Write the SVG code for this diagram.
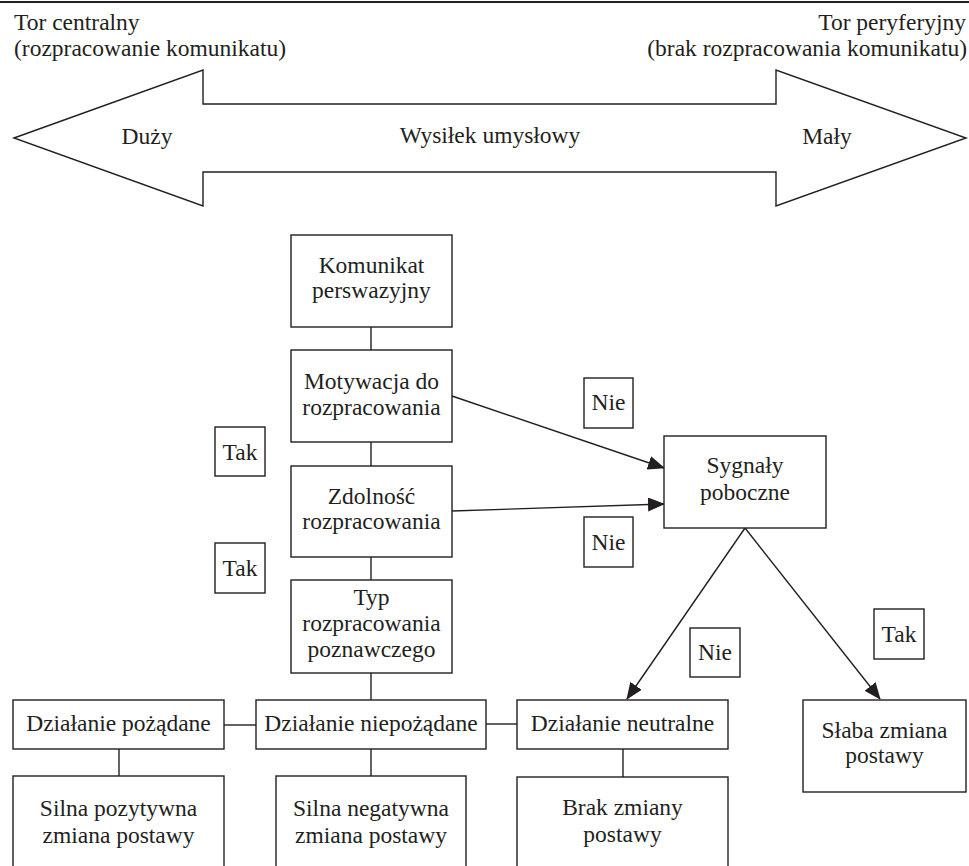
<svg xmlns="http://www.w3.org/2000/svg" width="969" height="866" viewBox="0 0 969 866" font-family="'Liberation Serif', 'DejaVu Serif', serif">
<defs>
<style>
text{font-family:'Liberation Serif','DejaVu Serif',serif;font-size:23.5px;fill:#231f20;text-anchor:middle}
.box{fill:#fff;stroke:#231f20;stroke-width:1.4}
.con{fill:none;stroke:#231f20;stroke-width:1.4}
.l{text-anchor:start}
.r{text-anchor:end}
</style>
<marker id="ah" markerUnits="userSpaceOnUse" markerWidth="18" markerHeight="14" refX="16" refY="7" orient="auto">
<path d="M0,0 L17,7 L0,14 z" fill="#231f20"/>
</marker>
</defs>
<rect width="969" height="866" fill="#fff"/>
<line x1="0" y1="2" x2="969" y2="2" stroke="#231f20" stroke-width="2.2"/>
<g id="header">
<text class="l" x="14" y="30">Tor centralny</text>
<text class="l" x="14" y="56">(rozpracowanie komunikatu)</text>
<text class="r" x="966" y="30">Tor peryferyjny</text>
<text class="r" x="967" y="56">(brak rozpracowania komunikatu)</text>
</g>
<g id="effort-arrow">
<polygon class="box" points="14,138 203,70 203,104 776,104 776,70 966,138 776,206 776,172 203,172 203,206"/>
<text x="147" y="144">Duży</text>
<text x="490" y="143">Wysiłek umysłowy</text>
<text x="827" y="144">Mały</text>
</g>
<g id="connectors">
<line class="con" x1="371" y1="327" x2="371" y2="350"/>
<line class="con" x1="371" y1="442" x2="371" y2="466"/>
<line class="con" x1="371" y1="557" x2="371" y2="580"/>
<line class="con" x1="371" y1="673" x2="371" y2="700"/>
<line class="con" x1="224" y1="725" x2="256" y2="725"/>
<line class="con" x1="486" y1="724" x2="517" y2="724"/>
<line class="con" x1="119" y1="749" x2="119" y2="776"/>
<line class="con" x1="371" y1="749" x2="371" y2="776"/>
<line class="con" x1="623" y1="749" x2="623" y2="777"/>
<line class="con" x1="452" y1="396" x2="664" y2="468" marker-end="url(#ah)"/>
<line class="con" x1="452" y1="511" x2="664" y2="504" marker-end="url(#ah)"/>
<line class="con" x1="745" y1="528" x2="627" y2="699" marker-end="url(#ah)"/>
<line class="con" x1="745" y1="528" x2="880" y2="699" marker-end="url(#ah)"/>
</g>
<g id="komunikat">
<rect class="box" x="291" y="235" width="161" height="92"/>
<text x="371.5" y="273">Komunikat</text>
<text x="371.5" y="298">perswazyjny</text>
</g>
<g id="motywacja">
<rect class="box" x="291" y="350" width="161" height="92"/>
<text x="371.5" y="389">Motywacja do</text>
<text x="371.5" y="415">rozpracowania</text>
</g>
<g id="zdolnosc">
<rect class="box" x="291" y="466" width="161" height="91"/>
<text x="371.5" y="504">Zdolność</text>
<text x="371.5" y="529">rozpracowania</text>
</g>
<g id="typ">
<rect class="box" x="291" y="580" width="161" height="93"/>
<text x="371.5" y="605">Typ</text>
<text x="371.5" y="631">rozpracowania</text>
<text x="371.5" y="657">poznawczego</text>
</g>
<g id="tak1"><rect class="box" x="215" y="427" width="50" height="49"/><text x="240" y="460">Tak</text></g>
<g id="tak2"><rect class="box" x="215" y="543" width="50" height="50"/><text x="240" y="576">Tak</text></g>
<g id="nie1"><rect class="box" x="584" y="378" width="49" height="50"/><text x="608.5" y="410">Nie</text></g>
<g id="nie2"><rect class="box" x="584" y="517" width="49" height="50"/><text x="608.5" y="550">Nie</text></g>
<g id="nie3"><rect class="box" x="690" y="628" width="50" height="49"/><text x="715" y="660">Nie</text></g>
<g id="tak3"><rect class="box" x="874" y="609" width="50" height="50"/><text x="899" y="642">Tak</text></g>
<g id="sygnaly">
<rect class="box" x="664" y="436" width="162" height="92"/>
<text x="745" y="473">Sygnały</text>
<text x="745" y="500">poboczne</text>
</g>
<g id="dzialanie-pozadane">
<rect class="box" x="13" y="700" width="211" height="49"/>
<text x="118.5" y="731">Działanie pożądane</text>
</g>
<g id="dzialanie-niepozadane">
<rect class="box" x="256" y="700" width="230" height="49"/>
<text x="371" y="731">Działanie niepożądane</text>
</g>
<g id="dzialanie-neutralne">
<rect class="box" x="517" y="700" width="211" height="49"/>
<text x="622.5" y="731">Działanie neutralne</text>
</g>
<g id="slaba">
<rect class="box" x="803" y="700" width="163" height="92"/>
<text x="884.5" y="738">Słaba zmiana</text>
<text x="884.5" y="763">postawy</text>
</g>
<g id="silna-pozytywna">
<rect class="box" x="13" y="776" width="211" height="100"/>
<text x="118.5" y="816">Silna pozytywna</text>
<text x="118.5" y="843">zmiana postawy</text>
</g>
<g id="silna-negatywna">
<rect class="box" x="276" y="776" width="190" height="100"/>
<text x="371" y="816">Silna negatywna</text>
<text x="371" y="843">zmiana postawy</text>
</g>
<g id="brak">
<rect class="box" x="517" y="777" width="211" height="100"/>
<text x="622.5" y="815">Brak zmiany</text>
<text x="622.5" y="842">postawy</text>
</g>
</svg>
